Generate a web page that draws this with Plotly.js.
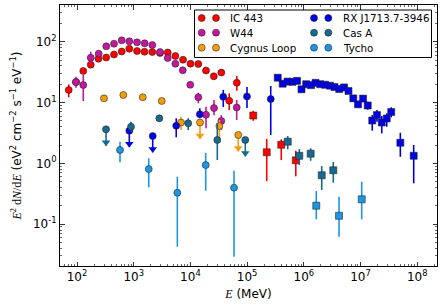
<!DOCTYPE html>
<html><head><meta charset="utf-8">
<script src="https://cdn.plot.ly/plotly-3.0.1.min.js"></script>
<style>html,body{margin:0;padding:0;background:#fff}#chart{width:445px;height:305px}</style>
</head><body><div id="chart"></div>
<script>
// ---------------- DATA (E in MeV, E^2 dN/dE in eV^2 cm^-2 s^-1 eV^-1) ----------------
// IC 443 (Fermi, circles)
const ic443E  = [71.4, 96, 129, 174.5, 239, 327, 449, 614, 836, 1143, 1550, 2128, 2910, 3981, 5420, 7410, 10050, 13780, 18840, 25860, 35100, 48350, 65800];
const ic443Y  = [16.1, 21.7, 33.0, 41.9, 52.5, 55.0, 61.6, 69.0, 76.7, 70.4, 68.5, 67.7, 65.2, 66.4, 58.2, 50.6, 43.5, 43.0, 33.6, 27.0, 31.1, 10.7, 21.2];
const ic443Hi = [19.9, 24.5, 35.5, 44.5, 55.0, 57.5, 64.0, 71.5, 79.5, 73.0, 71.0, 70.0, 68.0, 69.5, 61.0, 53.5, 46.5, 46.5, 37.0, 30.5, 34.5, 14.2, 27.2];
const ic443Lo = [12.2, 19.3, 30.5, 39.5, 50.0, 52.5, 59.0, 66.5, 74.0, 68.0, 66.0, 65.0, 62.5, 63.5, 55.5, 47.5, 40.5, 39.5, 30.5, 24.0, 28.0, 7.5, 15.6];
// IC 443 (ground based, squares)
const ic443GE  = [128300, 221800, 400000, 722000];
const ic443GY  = [6.11, 1.52, 2.02, 1.12];
const ic443GHi = [7.30, 2.51, 2.48, 1.61];
const ic443GLo = [5.00, 0.512, 1.13, 0.61];

// W44
const w44E  = [96, 129, 174.5, 241, 328, 449, 614, 836, 1143, 1560, 2128, 2910, 3981, 5420, 7330, 9940, 13780, 18840, 26100, 35100, 65500];
const w44Y  = [21.7, 19.4, 54.6, 63.5, 84.0, 92.7, 105.4, 101.6, 97.7, 94.2, 88.4, 67.7, 54.0, 43.5, 33.9, 19.6, 12.2, 6.3, 8.1, 4.97, 8.3];
const w44Hi = [26.6, 28.3, 68.5, 71.1, 88.0, 97.0, 110.0, 106.0, 102.0, 98.5, 92.5, 71.0, 57.0, 46.5, 36.5, 22.0, 14.5, 8.5, 11.0, 6.2, 11.0];
const w44Lo = [17.5, 10.6, 44.2, 56.6, 80.0, 88.5, 101.0, 97.0, 93.5, 90.0, 84.5, 64.5, 51.0, 40.5, 31.0, 17.5, 9.7, 3.77, 6.2, 3.53, 5.15];

// Cygnus Loop
const cygE  = [299, 656, 1442, 3119, 6820, 32400];
const cygY  = [11.7, 13.3, 12.2, 10.6, 4.69, 4.10];
const cygHi = [12.4, 14.1, 12.9, 11.2, 5.84, 5.15];
const cygLo = [11.0, 12.5, 11.5, 10.0, 3.53, 2.16];
const cygUlE = [14760, 69800];
const cygUlY = [4.69, 2.92];

// RX J1713.7-3946 (Fermi circles)
const rxE  = [5620, 14660, 38000, 99500, 261000];
const rxY  = [4.14, 6.43, 12.4, 12.6, 11.4];
const rxHi = [5.50, 8.04, 16.1, 18.0, 18.7];
const rxLo = [2.68, 5.50, 8.43, 8.13, 2.92];
const rxUlE = [836, 2163];
const rxUlY = [3.44, 2.81];
// RX J1713.7-3946 (H.E.S.S. squares)
const rxGE  = [3.47e5, 4.24e5, 5.16e5, 6.32e5, 7.59e5, 9.10e5, 1.10e6, 1.34e6, 1.61e6, 1.95e6, 2.37e6, 2.90e6, 3.48e6, 4.21e6, 5.12e6, 6.14e6, 7.46e6, 9.04e6, 1.11e7, 1.34e7, 1.61e7, 1.95e7, 2.37e7, 2.90e7, 3.48e7, 5.04e7, 8.67e7];
const rxGY  = [25.6, 20.4, 22.1, 21.9, 22.7, 16.5, 20.0, 19.3, 21.1, 20.0, 19.6, 18.9, 18.0, 16.7, 17.7, 15.5, 11.7, 9.34, 11.6, 8.94, 5.06, 6.22, 4.69, 5.46, 6.98, 2.18, 1.33];
const rxGHi = [27.5, 22.0, 23.6, 23.3, 24.2, 17.8, 21.3, 20.6, 22.5, 21.4, 21.0, 20.3, 19.4, 18.1, 19.2, 17.0, 13.0, 10.6, 13.0, 10.3, 6.22, 7.53, 6.00, 6.64, 8.34, 3.18, 2.00];
const rxGLo = [23.7, 18.8, 20.6, 20.5, 21.2, 15.2, 18.7, 18.0, 19.7, 18.6, 18.2, 17.5, 16.6, 15.3, 16.2, 14.0, 10.4, 8.10, 10.2, 7.60, 3.44, 4.83, 3.11, 4.00, 5.71, 1.28, 0.469];

// Cas A (Fermi circles)
const casE  = [896, 2830, 9140, 29800];
const casY  = [4.00, 5.50, 4.55, 2.42];
const casHi = [4.83, 6.22, 5.50, 4.55];
const casLo = [3.31, 4.83, 3.53, 1.13];
const casUlE = [325, 92900];
const casUlY = [3.62, 2.42];
// Cas A (ground based squares)
const casGE  = [520000, 833000, 1.32e6, 2.07e6, 3.31e6];
const casGY  = [2.27, 1.33, 1.44, 0.636, 0.768];
const casGHi = [2.81, 1.72, 1.77, 0.90, 1.05];
const casGLo = [1.70, 0.94, 1.10, 0.364, 0.48];

// Tycho (Fermi circles)
const tyE  = [573, 1841, 5880, 18620, 58800];
const tyY  = [1.66, 0.806, 0.328, 0.937, 0.397];
const tyHi = [2.27, 1.21, 0.603, 1.49, 0.755];
const tyLo = [1.04, 0.403, 0.0425, 0.354, 0.0291];
// Tycho (VERITAS squares)
const tyGE  = [1.66e6, 4.18e6, 1.05e7];
const tyGY  = [0.201, 0.137, 0.256];
const tyGHi = [0.350, 0.282, 0.498];
const tyGLo = [0.120, 0.062, 0.120];

const legendNames = ['IC 443', 'W44', 'Cygnus Loop', 'RX J1713.7-3946', 'Cas A', 'Tycho'];

// tick labels
const xTickVals = [1e2, 1e3, 1e4, 1e5, 1e6, 1e7, 1e8];
const xTickText = ['10<sup>2</sup>', '10<sup>3</sup>', '10<sup>4</sup>', '10<sup>5</sup>', '10<sup>6</sup>', '10<sup>7</sup>', '10<sup>8</sup>'];
const yTickVals = [0.1, 1, 10, 100];
const yTickText = ['10<sup>-1</sup>', '10<sup>0</sup>', '10<sup>1</sup>', '10<sup>2</sup>'];

// ---------------- STYLE ----------------
const C = {
  ic: '#ff0000', w44: '#c4179c', cyg: '#f39c0c', rx: '#0000e6', cas: '#176a8f', ty: '#1c96e2'
};
const EDGE = 'rgba(35,35,35,0.8)';
const UL_LINE = Math.pow(10, -0.27);   // arrow length (log-space, style)
const UL_HEAD = Math.pow(10, -0.215);

function pts(E, Y, Hi, Lo, color, symbol) {
  const t = {
    type: 'scatter', mode: 'markers', x: E, y: Y, showlegend: false, hoverinfo: 'skip',
    marker: {color: color, size: 7, symbol: symbol, line: {color: EDGE, width: 0.7}}
  };
  if (Hi) {
    t.error_y = {type: 'data', symmetric: false,
      array: Hi.map((h, i) => h - Y[i]), arrayminus: Lo.map((l, i) => Y[i] - l),
      color: color, thickness: 1.6, width: 0};
  }
  return t;
}
function ul(E, Y, color) {
  return [
    {type: 'scatter', mode: 'markers', x: E, y: Y, showlegend: false, hoverinfo: 'skip',
     marker: {color: color, size: 7, symbol: 'circle', line: {color: EDGE, width: 0.7}},
     error_y: {type: 'data', symmetric: false, array: Y.map(() => 0),
       arrayminus: Y.map(y => y - y * UL_LINE), color: color, thickness: 1.6, width: 0}},
    {type: 'scatter', mode: 'markers', x: E, y: Y.map(y => y * UL_HEAD), showlegend: false, hoverinfo: 'skip',
     marker: {color: color, size: 7.5, symbol: 'triangle-down', line: {width: 0}}}
  ];
}

const traces = [].concat(
  [pts(ic443E, ic443Y, ic443Hi, ic443Lo, C.ic, 'circle'),
   pts(ic443GE, ic443GY, ic443GHi, ic443GLo, C.ic, 'square')],
  [pts(w44E, w44Y, w44Hi, w44Lo, C.w44, 'circle')],
  [pts(cygE, cygY, cygHi, cygLo, C.cyg, 'circle')], ul(cygUlE, cygUlY, C.cyg),
  [pts(rxE, rxY, rxHi, rxLo, C.rx, 'circle'),
   pts(rxGE, rxGY, rxGHi, rxGLo, C.rx, 'square')], ul(rxUlE, rxUlY, C.rx),
  [pts(casE, casY, casHi, casLo, C.cas, 'circle'),
   pts(casGE, casGY, casGHi, casGLo, C.cas, 'square')], ul(casUlE, casUlY, C.cas),
  [pts(tyE, tyY, tyHi, tyLo, C.ty, 'circle'),
   pts(tyGE, tyGY, tyGHi, tyGLo, C.ty, 'square')]
);

// ---------------- LAYOUT ----------------
const W = 445, H = 305, ML = 60, MR = 8, MT = 5, MB = 39;
const PW = W - ML - MR, PH = H - MT - MB;
const px = x => (x - ML) / PW;
const py = y => (H - MB - y) / PH;

const legColors = [C.ic, C.w44, C.cyg, C.rx, C.cas, C.ty];
const rowY = [18, 32.7, 47.7];
const colMarkX = [[201.7, 216], [314, 328.3]];
const colTextX = [227.5, 340.5];

const shapes = [{type: 'rect', xref: 'paper', yref: 'paper', x0: px(194.5), x1: px(431.5), y0: py(57.5), y1: py(10),
  fillcolor: '#ffffff', line: {color: '#000', width: 1}, layer: 'above'}];
const annotations = [];
legendNames.forEach((n, i) => {
  const col = Math.floor(i / 3), row = i % 3;
  colMarkX[col].forEach(mx => {
    shapes.push({type: 'circle', xref: 'paper', yref: 'paper', xsizemode: 'pixel', ysizemode: 'pixel',
      xanchor: px(mx), yanchor: py(rowY[row]), x0: -3.5, x1: 3.5, y0: -3.5, y1: 3.5,
      fillcolor: legColors[i], line: {color: EDGE, width: 0.7}, layer: 'above'});
  });
  annotations.push({xref: 'paper', yref: 'paper', x: px(colTextX[col]), y: py(rowY[row]),
    xanchor: 'left', yanchor: 'middle', showarrow: false, text: n,
    font: {family: 'DejaVu Sans', size: 10.3, color: '#000'}});
});

// minor tick positions (2..9 x each decade) - purely axis styling
function minorVals(lo, hi) {
  const v = [];
  for (let p = lo; p <= hi; p++) for (let m = 2; m <= 9; m++) v.push(m * Math.pow(10, p));
  return v;
}

const axisCommon = {
  type: 'log', showline: true, linecolor: '#000', linewidth: 1, mirror: 'allticks',
  ticks: 'inside', ticklen: 4.5, tickwidth: 0.8, tickcolor: '#000', showgrid: false, zeroline: false,
  tickmode: 'array',
  tickfont: {family: 'DejaVu Sans', size: 12, color: '#000'}
};

const layout = {
  width: W, height: H, margin: {l: ML, r: MR, t: MT, b: MB},
  paper_bgcolor: '#fff', plot_bgcolor: '#fff', showlegend: false,
  xaxis: Object.assign({}, axisCommon, {range: [1.70, 8.349], tickvals: xTickVals, ticktext: xTickText,
    minor: {tickmode: 'array', tickvals: minorVals(1, 8), ticks: 'inside', ticklen: 2.2, tickwidth: 0.6, tickcolor: '#000', showgrid: false},
    title: {text: '<span style="font-family:Liberation Serif"><i>E</i></span> (MeV)',
      font: {family: 'DejaVu Sans', size: 12, color: '#000'}, standoff: 6}}),
  yaxis: Object.assign({}, axisCommon, {range: [-1.689, 2.604], tickvals: yTickVals, ticktext: yTickText,
    minor: {tickmode: 'array', tickvals: minorVals(-2, 2), ticks: 'inside', ticklen: 2.2, tickwidth: 0.6, tickcolor: '#000', showgrid: false},
    title: {text: '<span style="font-family:Liberation Serif"><i>E</i><sup>2</sup> d<i>N</i>/d<i>E</i></span> (eV<sup>2</sup> cm<sup>−2</sup> s<sup>−1</sup> eV<sup>−1</sup>)',
      font: {family: 'DejaVu Sans', size: 12, color: '#000'}, standoff: 8}}),
  shapes: shapes, annotations: annotations
};

Plotly.newPlot('chart', traces, layout, {staticPlot: true, displayModeBar: false});
</script></body></html>
